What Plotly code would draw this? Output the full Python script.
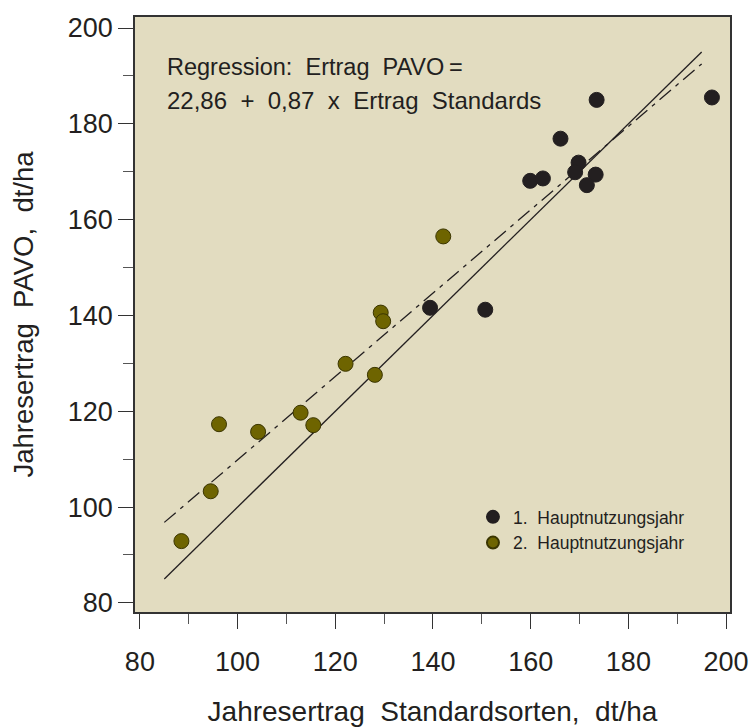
import plotly.graph_objects as go

# 1. Hauptnutzungsjahr (black)
x1 = [173.5, 197.1, 166.1, 159.9, 162.5, 169.8, 169.1, 173.3, 171.5, 139.4, 150.7]
y1 = [185.0, 185.5, 176.9, 168.1, 168.6, 171.9, 169.9, 169.4, 167.2, 141.6, 141.2]
# 2. Hauptnutzungsjahr (olive)
x2 = [129.3, 129.8, 122.1, 128.1, 112.9, 115.5, 96.2, 104.2, 94.5, 88.5, 142.1]
y2 = [140.6, 138.8, 129.9, 127.6, 119.7, 117.1, 117.3, 115.7, 103.3, 92.9, 156.5]

reg_intercept = 22.86
reg_slope = 0.87
line_x = [85, 195]
reg_y = [reg_intercept + reg_slope * v for v in line_x]
ident_y = line_x

xticks = [80, 100, 120, 140, 160, 180, 200]
yticks = [80, 100, 120, 140, 160, 180, 200]

FONT = "Liberation Sans, Arial, sans-serif"
TXT = "#231f20"

fig = go.Figure()
fig.add_trace(go.Scatter(x=line_x, y=ident_y, mode="lines",
                         line=dict(color=TXT, width=1.3), showlegend=False, hoverinfo="skip"))
fig.add_trace(go.Scatter(x=line_x, y=reg_y, mode="lines",
                         line=dict(color=TXT, width=1.3, dash="15px,6px,4px,6px"),
                         showlegend=False, hoverinfo="skip"))
fig.add_trace(go.Scatter(x=x1, y=y1, mode="markers", name="1.\u00a0 Hauptnutzungsjahr",
                         marker=dict(size=15, color="#231f20", line=dict(color="#231f20", width=1))))
fig.add_trace(go.Scatter(x=x2, y=y2, mode="markers", name="2.\u00a0 Hauptnutzungsjahr",
                         marker=dict(size=15, color="#6e6400", line=dict(color="#3a3500", width=1))))

fig.add_annotation(xref="paper", yref="paper", x=0.05, y=0.916, xanchor="left", yanchor="middle",
                   text="Regression:\u00a0 Ertrag\u00a0 PAVO\u2009=", showarrow=False,
                   font=dict(family=FONT, size=23.5, color=TXT))
fig.add_annotation(xref="paper", yref="paper", x=0.05, y=0.859, xanchor="left", yanchor="middle",
                   text="22,86\u00a0 +\u00a0 0,87\u00a0 x\u00a0 Ertrag\u00a0 Standards", showarrow=False,
                   font=dict(family=FONT, size=24, color=TXT))

axis_common = dict(showgrid=False, zeroline=False, showline=True, linecolor="#333333", linewidth=1.5,
                   mirror=True, ticks="outside", ticklen=15, tickwidth=1.3, tickcolor="#333333",
                   automargin=False,
                   tickfont=dict(family=FONT, size=27, color=TXT),
                   minor=dict(dtick=10, ticks="outside", ticklen=10, tickwidth=1, tickcolor="#555555"))

fig.update_layout(
    width=750, height=727,
    margin=dict(l=135, r=20, t=17, b=115),
    paper_bgcolor="white", plot_bgcolor="#e2dcc0",
    font=dict(family=FONT, color=TXT),
    xaxis=dict(range=[79, 200.8], tickvals=xticks, ticktext=[str(v) for v in xticks],
               ticklabelstandoff=10,
               title=dict(text="Jahresertrag\u00a0 Standardsorten,\u00a0 dt/ha",
                          font=dict(family=FONT, size=28, color=TXT), standoff=37),
               **axis_common),
    yaxis=dict(range=[78.1, 202.3], tickvals=yticks, ticktext=[str(v) for v in yticks],
               title=dict(text="Jahresertrag\u00a0 PAVO,\u00a0 dt/ha",
                          font=dict(family=FONT, size=27.5, color=TXT), standoff=26),
               **axis_common),
    legend=dict(x=0.568, y=0.19, xanchor="left", yanchor="top", bgcolor="rgba(0,0,0,0)",
                font=dict(family=FONT, size=17.5, color=TXT), itemsizing="constant",
                tracegroupgap=0),
    showlegend=True,
)

fig.write_html("out.html", config={"displayModeBar": False},
               post_script="document.body.style.margin='0';document.body.style.overflow='hidden';")
